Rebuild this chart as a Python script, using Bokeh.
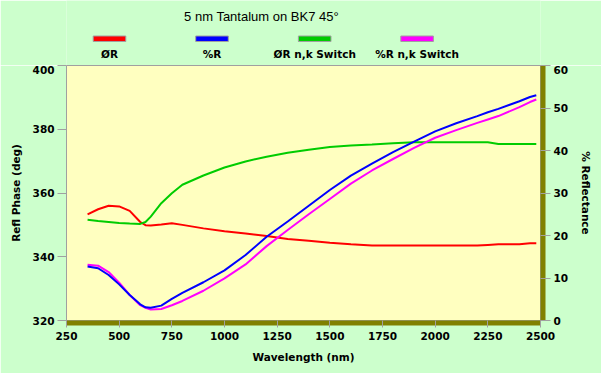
from bokeh.plotting import figure
from bokeh.models import Range1d, LinearAxis, FixedTicker, Label
from bokeh.layouts import column
from bokeh.embed import file_html
from bokeh.resources import INLINE

# ---- data ----
wavelength = [350, 400, 450, 500, 550, 600, 625, 650, 700, 750, 800, 900, 1000, 1100,
              1200, 1300, 1400, 1500, 1600, 1700, 1800, 1900, 2000, 2100, 2200, 2250,
              2300, 2400, 2450, 2480]
phase_R = [353.3, 354.9, 356.0, 355.8, 354.4, 350.9, 349.9, 349.8, 350.1, 350.5, 350.0,
           348.9, 348.0, 347.3, 346.5, 345.6, 345.0, 344.4, 343.9, 343.5, 343.5, 343.5,
           343.5, 343.5, 343.5, 343.7, 343.9, 343.9, 344.2, 344.2]
pct_R = [12.7, 12.3, 10.7, 8.5, 6.0, 3.8, 3.1, 3.0, 3.5, 5.1, 6.5, 9.0, 11.8, 15.4,
         19.7, 23.3, 27.0, 30.7, 34.1, 36.9, 39.6, 42.1, 44.5, 46.4, 48.1, 49.0,
         49.8, 51.6, 52.6, 53.0]
phase_R_switch = [351.6, 351.2, 350.9, 350.6, 350.4, 350.3, 350.9, 352.6, 356.8, 359.9,
                  362.6, 365.5, 368.0, 369.9, 371.4, 372.6, 373.6, 374.4, 374.9, 375.2,
                  375.6, 375.9, 375.9, 375.9, 375.9, 375.9, 375.4, 375.4, 375.4, 375.4]
pct_R_switch = [13.1, 12.9, 11.4, 8.9, 6.0, 3.6, 3.0, 2.6, 2.7, 3.6, 4.6, 7.0, 9.9, 13.2,
                17.5, 21.3, 25.0, 28.6, 32.2, 35.3, 38.0, 40.6, 43.0, 44.8, 46.5, 47.3,
                48.1, 50.2, 51.4, 52.0]

x_ticks = [250, 500, 750, 1000, 1250, 1500, 1750, 2000, 2250, 2500]
left_ticks = [320, 340, 360, 380, 400]
right_ticks = [0, 10, 20, 30, 40, 50, 60]

series_names = ["ØR", "%R", "ØR n,k Switch", "%R n,k Switch"]
series_colors = ["#FF0000", "#0000FF", "#00CC00", "#FF00FF"]

TITLE = "5 nm Tantalum on BK7 45°"
BG = "#CCFFCC"
PLOT_BG = "#FFFFC0"
GRAY = "#A0A0A0"
OLIVE = "#808000"
FONT = "DejaVu Sans"
FS = "10.5px"

# ---------- header figure: title + legend (page pixel coordinates) ----------
head = figure(width=601, height=65, output_backend="svg", toolbar_location=None,
              x_range=Range1d(66, 540), y_range=Range1d(65, 0),
              x_axis_location=None, y_axis_location=None,
              min_border_left=66, min_border_right=61,
              min_border_top=0, min_border_bottom=0)
head.border_fill_color = BG
head.background_fill_color = BG
head.outline_line_color = None
head.grid.visible = False

head.add_layout(Label(x=261, y=15.5, text=TITLE, text_align="center",
                      text_baseline="middle", text_font="Liberation Sans",
                      text_font_size="13px", text_color="#000000"))

legend_centers = [109, 211.5, 314.2, 416.6]
half_w = 16.3
head.quad(left=[c - half_w for c in legend_centers], right=[c + half_w for c in legend_centers],
          top=[35.5] * 4, bottom=[41] * 4, fill_color=series_colors,
          line_color=GRAY, line_width=1)
for cx, name in zip(legend_centers, series_names):
    head.add_layout(Label(x=cx, y=53, text=name, text_align="center",
                          text_baseline="middle", text_font=FONT,
                          text_font_style="bold", text_font_size=FS,
                          text_color="#000000"))

# ---------- main chart ----------
p = figure(frame_width=474, frame_height=255, output_backend="svg", toolbar_location=None,
           x_range=Range1d(250, 2500), y_range=Range1d(320, 400),
           x_axis_location=None, y_axis_location=None,
           min_border_left=66, min_border_right=61, min_border_top=0, min_border_bottom=53)
p.border_fill_color = BG
p.background_fill_color = PLOT_BG
p.outline_line_color = GRAY
p.grid.visible = False
p.extra_y_ranges = {"pct": Range1d(0, 60)}


def style_axis(ax, ticks, label, tick_in, tick_out, label_standoff, title_standoff):
    ax.ticker = FixedTicker(ticks=ticks)
    ax.axis_label = label
    ax.axis_label_text_font = FONT
    ax.axis_label_text_font_style = "bold"
    ax.axis_label_text_font_size = FS
    ax.axis_label_text_color = "#000000"
    ax.axis_label_standoff = title_standoff
    ax.major_label_text_font = FONT
    ax.major_label_text_font_style = "bold"
    ax.major_label_text_font_size = FS
    ax.major_label_text_color = "#000000"
    ax.major_label_standoff = label_standoff
    ax.axis_line_color = None
    ax.major_tick_line_color = GRAY
    ax.major_tick_in = tick_in
    ax.major_tick_out = tick_out
    ax.minor_tick_line_color = None


def shadow_axis(ax, tick):
    # an empty 5px axis panel painted olive: the 3D shadow of the plot area
    ax.ticker = FixedTicker(ticks=[tick])
    ax.major_label_text_font_size = "0px"
    ax.major_label_text_color = None
    ax.major_label_standoff = 0
    ax.major_tick_out = 5
    ax.major_tick_in = 0
    ax.major_tick_line_color = None
    ax.minor_tick_line_color = None
    ax.axis_line_color = None
    ax.background_fill_color = OLIVE


left_axis = LinearAxis()
style_axis(left_axis, left_ticks, "Refl Phase (deg)", 0, 9, 3, 8)
p.add_layout(left_axis, "left")

bottom_shadow = LinearAxis()
shadow_axis(bottom_shadow, 1000)
p.add_layout(bottom_shadow, "below")
bottom_axis = LinearAxis()
style_axis(bottom_axis, x_ticks, "Wavelength (nm)", 5, 2, 4, 8)
p.add_layout(bottom_axis, "below")

right_shadow = LinearAxis(y_range_name="pct")
shadow_axis(right_shadow, 30)
p.add_layout(right_shadow, "right")
right_axis = LinearAxis(y_range_name="pct")
style_axis(right_axis, right_ticks, "% Reflectance", 5, 5, 3, 9)
p.add_layout(right_axis, "right")

# data lines
p.line(wavelength, phase_R, line_color=series_colors[0], line_width=2)
p.line(wavelength, phase_R_switch, line_color=series_colors[2], line_width=2)
p.line(wavelength, pct_R_switch, y_range_name="pct", line_color=series_colors[3], line_width=2)
p.line(wavelength, pct_R, y_range_name="pct", line_color=series_colors[1], line_width=2)

layout = column(head, p, spacing=0)
open("out.html", "w").write(file_html(layout, INLINE))
